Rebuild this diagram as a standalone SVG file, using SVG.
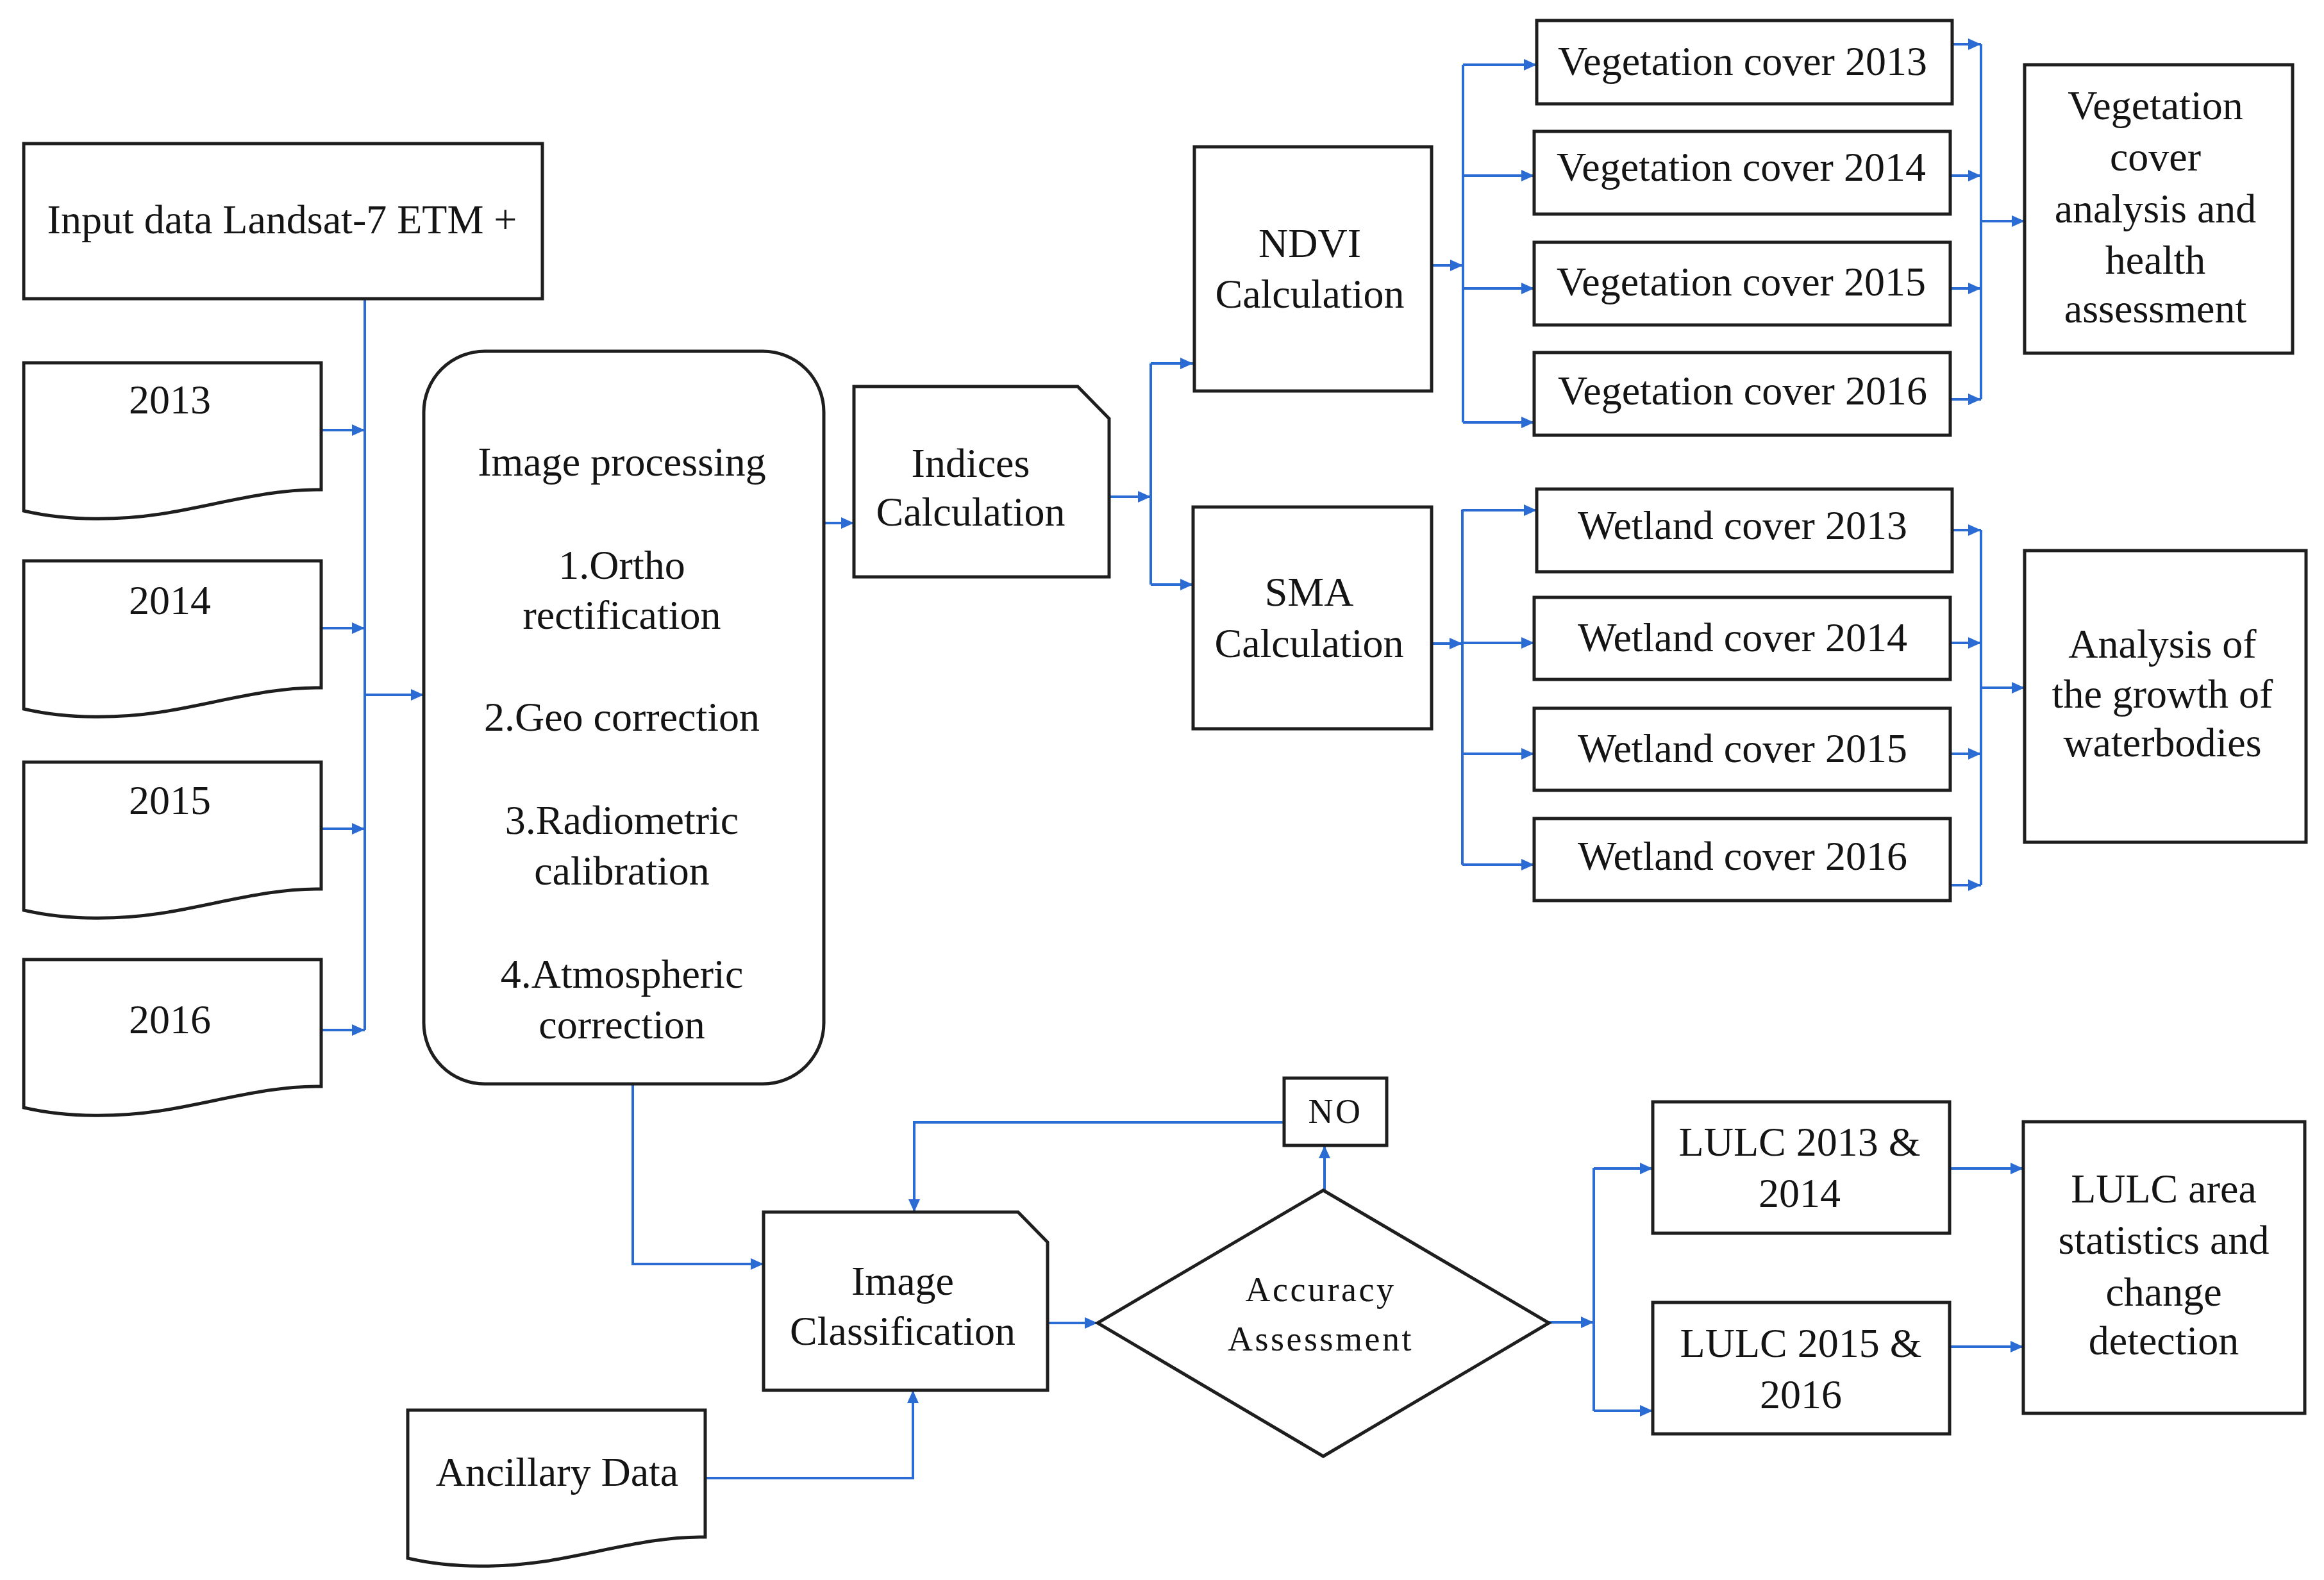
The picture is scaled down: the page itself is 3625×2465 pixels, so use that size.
<svg xmlns="http://www.w3.org/2000/svg" width="3625" height="2465" viewBox="0 0 3625 2465">
<style>
.n{fill:#fff;stroke:#1e1e1e;stroke-width:5;stroke-linejoin:miter}
.t{font-family:"Liberation Serif","Times New Roman",serif;font-size:64px;fill:#141414;text-anchor:middle}
.s{font-size:54px;letter-spacing:3.5px}
.c{fill:none;stroke:#2b6cd4;stroke-width:4}
.a{marker-end:url(#ah)}
</style>
<defs>
<marker id="ah" markerUnits="userSpaceOnUse" markerWidth="22" markerHeight="20" refX="20" refY="9" orient="auto">
<path d="M0,0 L20,9 L0,18 Z" fill="#2b6cd4"/>
</marker>
<path id="doc" d="M0,0 H464 V198 C383,196 293,224 213,236 C153,245 73,248 0,231 Z"/>
</defs>
<rect width="3625" height="2465" fill="#fff"/>

<g id="connectors">
<path class="c" d="M569,466 V1607"/>
<path class="c a" d="M501,671 H569"/>
<path class="c a" d="M501,980 H569"/>
<path class="c a" d="M501,1293 H569"/>
<path class="c a" d="M501,1607 H569"/>
<path class="c a" d="M569,1084 H661"/>
<path class="c a" d="M1285,816 H1332"/>
<path class="c a" d="M1730,775 H1795"/>
<path class="c" d="M1795,567 V912"/>
<path class="c a" d="M1795,567 H1861"/>
<path class="c a" d="M1795,912 H1861"/>
<path class="c a" d="M2233,414 H2282"/>
<path class="c" d="M2282,101 V659"/>
<path class="c a" d="M2282,101 H2397"/>
<path class="c a" d="M2282,274 H2393"/>
<path class="c a" d="M2282,450 H2393"/>
<path class="c a" d="M2282,659 H2393"/>
<path class="c a" d="M3045,69 H3090"/>
<path class="c a" d="M3042,274 H3090"/>
<path class="c a" d="M3042,450 H3090"/>
<path class="c a" d="M3042,623 H3090"/>
<path class="c" d="M3090,69 V623"/>
<path class="c a" d="M3090,345 H3158"/>
<path class="c a" d="M2233,1004 H2281"/>
<path class="c" d="M2281,795 V1349"/>
<path class="c a" d="M2281,796 H2397"/>
<path class="c a" d="M2281,1003 H2393"/>
<path class="c a" d="M2281,1176 H2393"/>
<path class="c a" d="M2281,1349 H2393"/>
<path class="c a" d="M3045,827 H3090"/>
<path class="c a" d="M3042,1003 H3090"/>
<path class="c a" d="M3042,1176 H3090"/>
<path class="c a" d="M3042,1381 H3090"/>
<path class="c" d="M3090,827 V1381"/>
<path class="c a" d="M3090,1073 H3158"/>
<path class="c a" d="M987,1691 V1972 H1191"/>
<path class="c a" d="M1099,2306 H1424 V2169"/>
<path class="c a" d="M1634,2064 H1712"/>
<path class="c a" d="M2066,1857 V1787"/>
<path class="c a" d="M2003,1751 H1426 V1891"/>
<path class="c a" d="M2416,2063 H2486"/>
<path class="c" d="M2486,1822 V2201"/>
<path class="c a" d="M2486,1823 H2578"/>
<path class="c a" d="M2486,2201 H2578"/>
<path class="c a" d="M3041,1823 H3156"/>
<path class="c a" d="M3041,2101 H3156"/>
</g>

<g id="input"><rect class="n" x="37" y="224" width="809" height="242"/><text class="t" x="440" y="364">Input data Landsat-7 ETM +</text></g>
<g id="y2013"><use href="#doc" class="n" x="37" y="566"/><text class="t" x="265" y="645">2013</text></g>
<g id="y2014"><use href="#doc" class="n" x="37" y="875"/><text class="t" x="265" y="958">2014</text></g>
<g id="y2015"><use href="#doc" class="n" x="37" y="1189"/><text class="t" x="265" y="1270">2015</text></g>
<g id="y2016"><use href="#doc" class="n" x="37" y="1497"/><text class="t" x="265" y="1612">2016</text></g>

<g id="imgproc"><rect class="n" x="661" y="548" width="624" height="1143" rx="95" ry="95"/>
<text class="t" x="970" y="742">Image processing</text>
<text class="t" x="970" y="903">1.Ortho</text>
<text class="t" x="970" y="981">rectification</text>
<text class="t" x="970" y="1140">2.Geo correction</text>
<text class="t" x="970" y="1301">3.Radiometric</text>
<text class="t" x="970" y="1380">calibration</text>
<text class="t" x="970" y="1541">4.Atmospheric</text>
<text class="t" x="970" y="1620">correction</text></g>

<g id="indices"><path class="n" d="M1332,603 H1681 L1730,653 V900 H1332 Z"/><text class="t" x="1514" y="744">Indices</text><text class="t" x="1514" y="820">Calculation</text></g>
<g id="ndvi"><rect class="n" x="1863" y="229" width="370" height="381"/><text class="t" x="2043" y="401">NDVI</text><text class="t" x="2043" y="480">Calculation</text></g>
<g id="sma"><rect class="n" x="1861" y="791" width="372" height="346"/><text class="t" x="2042" y="945">SMA</text><text class="t" x="2042" y="1025">Calculation</text></g>

<g id="vc2013"><rect class="n" x="2397" y="32" width="648" height="130"/><text class="t" x="2718" y="117">Vegetation cover 2013</text></g>
<g id="vc2014"><rect class="n" x="2393" y="205" width="649" height="129"/><text class="t" x="2716" y="282">Vegetation cover 2014</text></g>
<g id="vc2015"><rect class="n" x="2393" y="378" width="649" height="129"/><text class="t" x="2716" y="461">Vegetation cover 2015</text></g>
<g id="vc2016"><rect class="n" x="2393" y="550" width="649" height="129"/><text class="t" x="2718" y="631">Vegetation cover 2016</text></g>
<g id="veganalysis"><rect class="n" x="3158" y="101" width="418" height="450"/>
<text class="t" x="3362" y="186">Vegetation</text><text class="t" x="3362" y="266">cover</text><text class="t" x="3362" y="347">analysis and</text><text class="t" x="3362" y="427">health</text><text class="t" x="3362" y="503">assessment</text></g>

<g id="wc2013"><rect class="n" x="2397" y="763" width="648" height="129"/><text class="t" x="2718" y="841">Wetland cover 2013</text></g>
<g id="wc2014"><rect class="n" x="2393" y="932" width="649" height="128"/><text class="t" x="2718" y="1016">Wetland cover 2014</text></g>
<g id="wc2015"><rect class="n" x="2393" y="1105" width="649" height="128"/><text class="t" x="2718" y="1189">Wetland cover 2015</text></g>
<g id="wc2016"><rect class="n" x="2393" y="1277" width="649" height="128"/><text class="t" x="2718" y="1357">Wetland cover 2016</text></g>
<g id="waterbodies"><rect class="n" x="3158" y="859" width="439" height="455"/>
<text class="t" x="3373" y="1026">Analysis of</text><text class="t" x="3373" y="1104">the growth of</text><text class="t" x="3373" y="1180">waterbodies</text></g>

<g id="no"><rect class="n" x="2003" y="1682" width="160" height="105"/><text class="t s" x="2083" y="1752">NO</text></g>
<g id="imgclass"><path class="n" d="M1191,1891 H1588 L1634,1938 V2169 H1191 Z"/><text class="t" x="1408" y="2020">Image</text><text class="t" x="1408" y="2098">Classification</text></g>
<g id="ancillary"><use href="#doc" class="n" x="636" y="2200"/><text class="t" x="869" y="2318">Ancillary Data</text></g>
<g id="accuracy"><path class="n" d="M2064,1857 L2416,2064 L2064,2272 L1712,2064 Z"/><text class="t s" x="2060" y="2030">Accuracy</text><text class="t s" x="2060" y="2107">Assessment</text></g>
<g id="lulc1314"><rect class="n" x="2578" y="1719" width="463" height="205"/><text class="t" x="2807" y="1803">LULC 2013 &amp;</text><text class="t" x="2807" y="1883">2014</text></g>
<g id="lulc1516"><rect class="n" x="2578" y="2032" width="463" height="205"/><text class="t" x="2809" y="2117">LULC 2015 &amp;</text><text class="t" x="2809" y="2197">2016</text></g>
<g id="lulcarea"><rect class="n" x="3156" y="1750" width="439" height="455"/>
<text class="t" x="3375" y="1876">LULC area</text><text class="t" x="3375" y="1956">statistics and</text><text class="t" x="3375" y="2037">change</text><text class="t" x="3375" y="2113">detection</text></g>
</svg>
